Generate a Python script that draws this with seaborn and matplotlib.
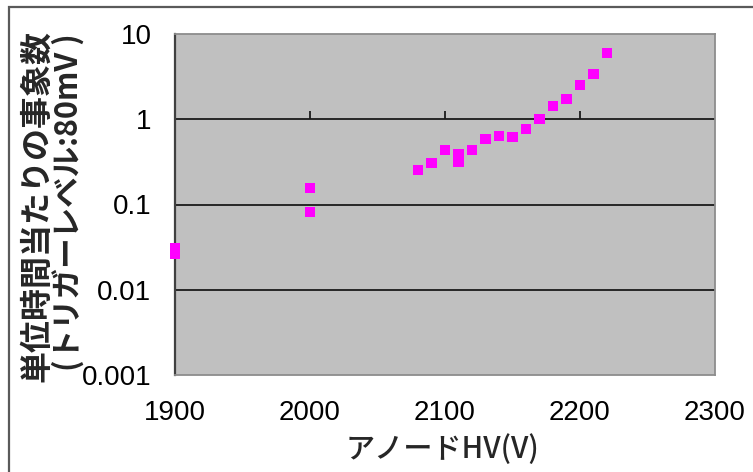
import numpy as np
import pandas as pd
import matplotlib
matplotlib.use("Agg")
import matplotlib.pyplot as plt
import seaborn as sns
from matplotlib.patches import Rectangle
from matplotlib.ticker import FixedLocator, FuncFormatter

# Event rate vs. anode high voltage (trigger level 80 mV)
anode_hv = [1900, 1900, 2000, 2000, 2080, 2090, 2100, 2110, 2110, 2120,
            2130, 2140, 2150, 2160, 2170, 2180, 2190, 2200, 2210, 2220]
event_rate = [0.031, 0.026, 0.157, 0.082, 0.257, 0.31, 0.436, 0.395, 0.318, 0.436,
              0.587, 0.636, 0.613, 0.76, 1.0, 1.44, 1.75, 2.53, 3.4, 6.0]

x_ticks = [1900, 2000, 2100, 2200, 2300]
y_ticks = [0.001, 0.01, 0.1, 1, 10]

df = pd.DataFrame({"hv": anode_hv, "rate": event_rate})

sns.set_style("white")
plt.rcParams["font.family"] = ["Liberation Sans", "Noto Sans CJK JP", "DejaVu Sans"]

fig = plt.figure(figsize=(7.53, 4.72), dpi=100)
ax = fig.add_axes([175 / 753, 1 - 375 / 472, 540 / 753, 341 / 472])
ax.set_facecolor("#C0C0C0")

ax.set_yscale("log")
ax.set_xlim(1900, 2300)
ax.set_ylim(0.001, 10)

# decade gridlines
for yv in [0.01, 0.1]:
    ax.axhline(yv, color="#1a1a1a", lw=1.3, zorder=1)
# horizontal axis crossing at 1, with inward ticks
ax.axhline(1, color="#1a1a1a", lw=1.3, zorder=1)
ax.vlines(x_ticks[1:-1], 1, 10 ** (8 / 85.5), color="#1a1a1a", lw=1.3, zorder=1)

sns.scatterplot(data=df, x="hv", y="rate", marker="s", s=52, color="#FF00FF",
                edgecolor="none", linewidth=0, ax=ax, zorder=3, clip_on=False)

ax.xaxis.set_major_locator(FixedLocator(x_ticks))
ax.yaxis.set_major_locator(FixedLocator(y_ticks))
ax.yaxis.set_minor_locator(FixedLocator([]))
ax.yaxis.set_major_formatter(FuncFormatter(lambda v, p: f"{v:g}"))
ax.tick_params(axis="both", length=0, labelsize=20, colors="black")
ax.tick_params(axis="x", pad=18)
ax.tick_params(axis="y", pad=17)

for side in ["top", "right", "bottom"]:
    ax.spines[side].set_color("#8c8c8c")
    ax.spines[side].set_linewidth(1.3)
ax.spines["left"].set_color("#404040")
ax.spines["left"].set_linewidth(1.6)

ax.set_xlabel("")
ax.set_ylabel("")

fig.text(37 / 753, 0.563, "単位時間当たりの事象数", rotation=90, ha="center", va="center",
         fontsize=23, fontweight="bold", family=["Noto Sans CJK JP", "DejaVu Sans"])
fig.text(68 / 753, 0.572, "(トリガーレベル:80mV )", rotation=90, ha="center", va="center",
         fontsize=22, fontweight="bold", family=["Noto Sans CJK JP", "DejaVu Sans"])
fig.text(442 / 753, 1 - 449 / 472, "アノードHV(V)", ha="center", va="center",
         fontsize=21, fontweight="medium", family=["Noto Sans CJK JP", "DejaVu Sans"])

# chart frame
fig.add_artist(Rectangle((8.5 / 753, -0.05), 1.1, 0.05 + (472 - 6.5) / 472,
                         transform=fig.transFigure, fill=False,
                         edgecolor="#5a5a5a", lw=1.6))

fig.savefig("out.png", dpi=100)
